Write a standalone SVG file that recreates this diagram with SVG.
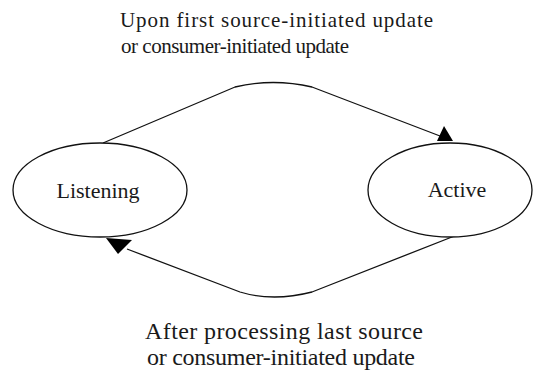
<svg xmlns="http://www.w3.org/2000/svg" width="536" height="380" viewBox="0 0 536 380">
<style>
.node{fill:#fff;stroke:#111;stroke-width:1.3}
.lbl{font-family:"Liberation Serif","Times New Roman",serif;fill:#1a1a1a}
.edge{fill:none;stroke:#111;stroke-width:1.3}
.head{fill:#000}
</style>
<rect width="536" height="380" fill="#fff"/>
<g id="connectors">
<path class="edge" d="M103,143 L235,87 Q273,78 312,87 L440,136"/>
<polygon class="head" points="444,126 437,141 453,141"/>
<path class="edge" d="M457,235 L312,292 Q273,302 240,292 L127,249"/>
<polygon class="head" points="106,238 132,240 118,254"/>
</g>
<g id="listening">
<ellipse class="node" cx="100" cy="190" rx="87" ry="47"/>
<text class="lbl" x="98" y="198" font-size="22" text-anchor="middle">Listening</text>
</g>
<g id="active">
<ellipse class="node" cx="450" cy="190" rx="82" ry="47"/>
<text class="lbl" x="457" y="197" font-size="22" text-anchor="middle">Active</text>
</g>
<g id="label-top">
<text class="lbl" x="120" y="27" font-size="21" textLength="313" lengthAdjust="spacing">Upon first source-initiated update</text>
<text class="lbl" x="121" y="53" font-size="21" textLength="228" lengthAdjust="spacing">or consumer-initiated update</text>
</g>
<g id="label-bottom">
<text class="lbl" x="145" y="339" font-size="24" textLength="278" lengthAdjust="spacing">After processing last source</text>
<text class="lbl" x="147" y="365" font-size="24" textLength="268" lengthAdjust="spacing">or consumer-initiated update</text>
</g>
</svg>
